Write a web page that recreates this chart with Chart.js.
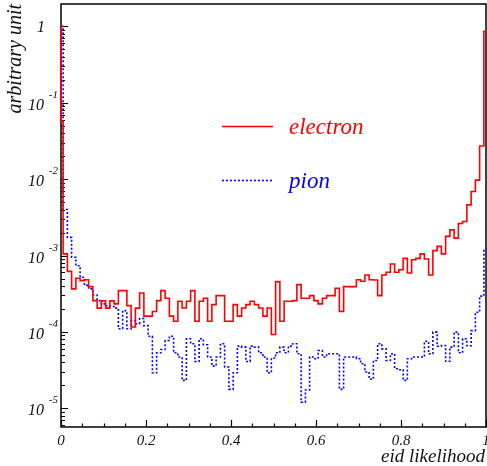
<!DOCTYPE html>
<html>
<head>
<meta charset="UTF-8">
<title>eid likelihood</title>
<script src="https://cdn.jsdelivr.net/npm/chart.js"></script>
<style>
  body { margin: 0; background: #fff; }
  #wrap { width: 487px; height: 466px; }
</style>
</head>
<body>
<div id="wrap"><canvas id="c" width="487" height="466"></canvas></div>
<script>
// histogram bins are centred on 0.00, 0.01, ... 1.00 (width 0.01),
// the outer halves of the first and last bin fall outside the axis
var binWidth = 0.01;
var electronAtZero = 1.0; // narrow spike right on x = 0

var electron = [
  0.057, 1.05e-3, 6.2e-4, 3.66e-4, 5.04e-4, 4.69e-4, 4.83e-4, 3.92e-4, 2.57e-4, 2.05e-4,
  2.55e-4, 2.05e-4, 2.55e-4, 2.33e-4, 3.47e-4, 3.47e-4, 2.21e-4, 1.16e-4, 2.05e-4, 3.24e-4,
  1.61e-4, 1.61e-4, 1.85e-4, 2.57e-4, 3.47e-4, 2.76e-4, 1.61e-4, 1.38e-4, 2.52e-4, 2.06e-4,
  2.52e-4, 3.47e-4, 1.38e-4, 2.52e-4, 2.76e-4, 1.38e-4, 2.28e-4, 2.99e-4, 2.99e-4, 1.38e-4,
  1.38e-4, 2.28e-4, 1.61e-4, 2.06e-4, 2.28e-4, 2.52e-4, 2.28e-4, 2.06e-4, 1.61e-4, 2.06e-4,
  9.25e-5, 4.55e-4, 1.38e-4, 2.52e-4, 2.52e-4, 2.57e-4, 4.16e-4, 2.76e-4, 2.76e-4, 2.99e-4,
  2.57e-4, 2.33e-4, 2.76e-4, 2.99e-4, 2.99e-4, 3.73e-4, 1.85e-4, 3.92e-4, 3.92e-4, 3.92e-4,
  4.83e-4, 4.61e-4, 5.56e-4, 4.83e-4, 4.79e-4, 2.99e-4, 5.56e-4, 6.04e-4, 7.74e-4, 6.04e-4,
  6.53e-4, 9.19e-4, 5.91e-4, 8.81e-4, 9.19e-4, 1.05e-3, 9.0e-4, 5.56e-4, 1.16e-3, 1.32e-3,
  1.05e-3, 1.78e-3, 2.17e-3, 1.69e-3, 2.63e-3, 2.79e-3, 4.6e-3, 6.9e-3, 9.7e-3, 2.71e-2,
  0.86
];

var pion = [
  1.0, 4.0e-3, 1.73e-3, 9.5e-4, 7.36e-4, 5.2e-4, 4.07e-4, 3.66e-4, 3.05e-4, 2.57e-4,
  2.33e-4, 2.2e-4, 2.15e-4, 2.05e-4, 1.1e-4, 1.9e-4, 1.1e-4, 1.4e-4, 1.28e-4, 1.5e-4,
  1.21e-4, 8.8e-5, 2.92e-5, 5.33e-5, 5.89e-5, 7.73e-5, 8.8e-5, 5.33e-5, 4.69e-5, 2.32e-5,
  8.13e-5, 7.0e-5, 4.11e-5, 8.13e-5, 6.79e-5, 4.69e-5, 3.57e-5, 4.69e-5, 7.0e-5, 3.47e-5,
  1.77e-5, 2.92e-5, 6.53e-5, 6.33e-5, 4.11e-5, 6.53e-5, 6.33e-5, 5.33e-5, 4.69e-5, 2.92e-5,
  4.55e-5, 5.33e-5, 6.33e-5, 5.33e-5, 6.53e-5, 7.0e-5, 5.18e-5, 1.2e-5, 1.74e-5, 4.69e-5,
  4.46e-5, 5.71e-5, 4.69e-5, 5.18e-5, 5.18e-5, 5.18e-5, 1.77e-5, 4.69e-5, 4.69e-5, 4.69e-5,
  4.46e-5, 3.84e-5, 2.99e-5, 2.4e-5, 4.23e-5, 7.0e-5, 6.01e-5, 4.23e-5, 5.18e-5, 3.3e-5,
  3.2e-5, 2.32e-5, 4.46e-5, 4.69e-5, 4.69e-5, 4.69e-5, 7.54e-5, 5.18e-5, 9.94e-5, 6.5e-5,
  6.64e-5, 4.13e-5, 6.33e-5, 9.94e-5, 5.33e-5, 8.13e-5, 6.6e-5, 1.04e-4, 1.81e-4, 2.94e-4,
  1.22e-3
];

var xTicks = [0, 0.2, 0.4, 0.6, 0.8, 1];
var xTickLabels = ['0', '0.2', '0.4', '0.6', '0.8', '1'];
var yDecades = [0, -1, -2, -3, -4, -5];
var yMin = 5.7e-6, yMax = 1.96;

var serif = "'Liberation Serif', 'Times New Roman', serif";

// turn bin contents into step points at the bin edges
function histPoints(vals, spike) {
  var pts = [];
  if (spike) {
    pts.push({x: 0, y: vals[0]});
    pts.push({x: 0, y: spike});
    pts.push({x: 0.0003, y: vals[0]});
  } else {
    pts.push({x: 0, y: vals[0]});
  }
  for (var i = 1; i < vals.length; i++) {
    pts.push({x: (i - 0.5) * binWidth, y: vals[i]});
  }
  pts.push({x: 1, y: vals[vals.length - 1]});
  return pts;
}

var frame = {
  id: 'frame',
  beforeDatasetsDraw: function (chart) {
    var ctx = chart.ctx, a = chart.chartArea;
    var xs = chart.scales.x, ys = chart.scales.y;
    ctx.save();
    ctx.strokeStyle = '#000';
    ctx.lineWidth = 1.5;
    ctx.strokeRect(a.left, a.top, a.right - a.left, a.bottom - a.top);

    // log ticks on the left axis
    ctx.lineWidth = 1.2;
    ctx.beginPath();
    for (var d = -6; d <= 0; d++) {
      for (var m = 1; m <= 9; m++) {
        var v = m * Math.pow(10, d);
        if (v < yMin || v > yMax) continue;
        var py = Math.round(ys.getPixelForValue(v)) + 0.5;
        var len = m === 1 ? 7 : 4;
        ctx.moveTo(a.left, py);
        ctx.lineTo(a.left + len, py);
      }
    }
    // x ticks every 0.05
    for (var k = 0; k <= 20; k++) {
      var px = Math.round(xs.getPixelForValue(k * 0.05)) + 0.5;
      var l = k % 4 === 0 ? 7 : 3.5;
      ctx.moveTo(px, a.bottom);
      ctx.lineTo(px, a.bottom - l);
    }
    ctx.stroke();

    // y labels
    ctx.fillStyle = '#111';
    yDecades.forEach(function (e) {
      var py = ys.getPixelForValue(Math.pow(10, e));
      if (e === 0) {
        ctx.font = 'italic 16px ' + serif;
        ctx.textAlign = 'right';
        ctx.fillText('1', 45, py + 6);
        return;
      }
      ctx.font = 'italic 16px ' + serif;
      ctx.textAlign = 'right';
      ctx.fillText('10', 44, py + 7);
      ctx.font = 'italic 11px ' + serif;
      ctx.fillText(String(e), 58, py - 5);
    });

    // x labels
    ctx.font = 'italic 15px ' + serif;
    ctx.textAlign = 'center';
    xTicks.forEach(function (t, i) {
      ctx.fillText(xTickLabels[i], xs.getPixelForValue(t), 445);
    });

    // axis titles
    ctx.font = 'italic 19px ' + serif;
    ctx.textAlign = 'right';
    ctx.fillText('eid likelihood', 485, 462);
    ctx.save();
    ctx.font = 'italic 20px ' + serif;
    ctx.translate(21, 4);
    ctx.rotate(-Math.PI / 2);
    ctx.textAlign = 'right';
    ctx.fillText('arbitrary unit', 0, 0);
    ctx.restore();

    // legend
    var items = chart.data.datasets;
    var rows = [126, 180];
    items.forEach(function (ds, i) {
      ctx.strokeStyle = ds.borderColor;
      ctx.lineWidth = ds.borderWidth;
      ctx.setLineDash(ds.borderDash || []);
      ctx.beginPath();
      ctx.moveTo(222, rows[i] + 0.5);
      ctx.lineTo(273, rows[i] + 0.5);
      ctx.stroke();
      ctx.setLineDash([]);
      ctx.fillStyle = ds.borderColor;
      ctx.font = 'italic 23px ' + serif;
      ctx.textAlign = 'left';
      ctx.fillText(ds.label, 289, rows[i] + 8);
    });
    ctx.restore();
  }
};

new Chart(document.getElementById('c'), {
  type: 'line',
  data: {
    datasets: [{
      label: 'electron',
      data: histPoints(electron, electronAtZero),
      borderColor: '#ff0000',
      borderWidth: 1.6,
      stepped: true,
      pointRadius: 0,
      fill: false,
      clip: 2
    }, {
      label: 'pion',
      data: histPoints(pion, 0),
      borderColor: '#0000ff',
      borderWidth: 1.6,
      borderDash: [2, 2],
      stepped: true,
      pointRadius: 0,
      fill: false,
      clip: 2
    }]
  },
  options: {
    responsive: false,
    devicePixelRatio: 1,
    animation: false,
    layout: { padding: { left: 61, right: 1, top: 4, bottom: 39 } },
    scales: {
      x: { type: 'linear', min: 0, max: 1, display: false },
      y: { type: 'logarithmic', min: yMin, max: yMax, display: false }
    },
    plugins: { legend: { display: false }, tooltip: { enabled: false } }
  },
  plugins: [frame]
});
</script>
</body>
</html>
